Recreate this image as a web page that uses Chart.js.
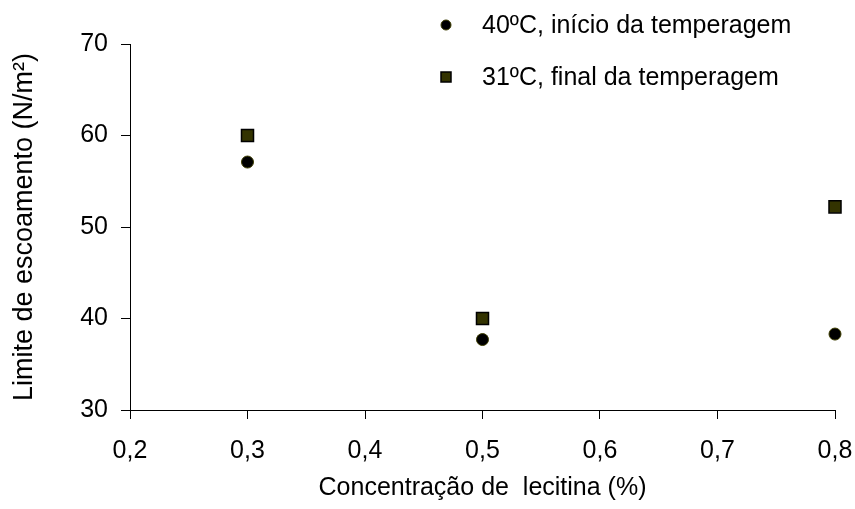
<!DOCTYPE html>
<html>
<head>
<meta charset="utf-8">
<script src="https://cdn.jsdelivr.net/npm/chart.js@4/dist/chart.umd.min.js"></script>
<style>
  html, body { margin: 0; padding: 0; background: #fff; }
  #wrap { width: 855px; height: 509px; }
</style>
</head>
<body>
<div id="wrap"><canvas id="myChart" width="855" height="509"></canvas></div>
<script>
// concentração de lecitina (%)
var lecitina = [0.3, 0.5, 0.8];
// limite de escoamento (N/m²)
var inicio40 = [57.1, 37.7, 38.3];
var final31 = [60.0, 40.0, 52.2];
var seriesNames = ['40ºC, início da temperagem', '31ºC, final da temperagem'];
var yTicks = [30, 40, 50, 60, 70];
var xTicks = [0.2, 0.3, 0.4, 0.5, 0.6, 0.7, 0.8];

var fontFamily = "'Liberation Sans', Arial, sans-serif";

function toPoints(xs, ys) {
  return xs.map(function (x, i) { return { x: x, y: ys[i] }; });
}

// legenda desenhada à mão, no canto superior direito
var legendPlugin = {
  id: 'cornerLegend',
  afterDraw: function (chart) {
    var ctx = chart.ctx;
    var rows = [25, 77];
    ctx.save();
    ctx.font = '25px ' + fontFamily;
    ctx.textBaseline = 'middle';
    ctx.textAlign = 'left';
    chart.data.datasets.forEach(function (ds, i) {
      var y = rows[i];
      var x = 446;
      ctx.fillStyle = ds.backgroundColor;
      ctx.strokeStyle = ds.borderColor;
      ctx.lineWidth = ds.borderWidth;
      if (ds.pointStyle === 'rect') {
        ctx.fillRect(x - 5, y - 5, 10, 10);
        ctx.strokeRect(x - 5, y - 5, 10, 10);
      } else {
        ctx.beginPath();
        ctx.arc(x, y, 5, 0, Math.PI * 2);
        ctx.fill();
        ctx.stroke();
      }
      ctx.fillStyle = '#000';
      ctx.fillText(ds.label, 482, y + 1);
    });
    ctx.restore();
  }
};

const data = {
  datasets: [{
    label: seriesNames[0],
    data: toPoints(lecitina, inicio40),
    clip: false,
    pointStyle: 'circle',
    pointRadius: 6,
    pointHoverRadius: 6,
    backgroundColor: '#000000',
    borderColor: '#3d3d00',
    borderWidth: 1
  }, {
    label: seriesNames[1],
    data: toPoints(lecitina, final31),
    clip: false,
    pointStyle: 'rect',
    pointRadius: 8.5,
    pointHoverRadius: 8.5,
    backgroundColor: '#333300',
    borderColor: '#000000',
    borderWidth: 1.5
  }]
};

const config = {
  type: 'scatter',
  data: data,
  options: {
    responsive: false,
    animation: false,
    layout: { padding: { top: 44, right: 20, left: 0, bottom: 0 } },
    plugins: {
      legend: { display: false },
      tooltip: { enabled: false }
    },
    scales: {
      x: {
        type: 'linear',
        min: 0.2,
        max: 0.8,
        afterBuildTicks: function (scale) {
          scale.ticks = xTicks.map(function (v) { return { value: v }; });
        },
        afterFit: function (scale) {
          scale.height = 99;
          scale.paddingLeft = 0;
          scale.paddingRight = 0;
        },
        grid: { drawOnChartArea: false, color: '#000', tickLength: 9, tickWidth: 1 },
        border: { display: true, color: '#000', width: 1 },
        ticks: {
          color: '#000',
          padding: 17,
          maxRotation: 0,
          autoSkip: false,
          font: { family: fontFamily, size: 25 },
          callback: function (v) { return Number(v).toFixed(1).replace('.', ','); }
        },
        title: {
          display: true,
          text: 'Concentração de  lecitina (%)',
          color: '#000',
          padding: { top: 0, bottom: 6 },
          font: { family: fontFamily, size: 25 }
        }
      },
      y: {
        min: 30,
        max: 70,
        afterBuildTicks: function (scale) {
          scale.ticks = yTicks.map(function (v) { return { value: v }; });
        },
        afterFit: function (scale) { scale.width = 130; },
        grid: { drawOnChartArea: false, color: '#000', tickLength: 9, tickWidth: 1 },
        border: { display: true, color: '#000', width: 1 },
        ticks: {
          color: '#000',
          padding: 13,
          font: { family: fontFamily, size: 25 }
        },
        title: {
          display: true,
          text: 'Limite de escoamento (N/m²)',
          color: '#000',
          padding: { top: 8, bottom: 0 },
          font: { family: fontFamily, size: 27 }
        }
      }
    }
  },
  plugins: [legendPlugin]
};

const ctx = document.getElementById('myChart');
let chart = new Chart(ctx, config);
</script>
</body>
</html>
